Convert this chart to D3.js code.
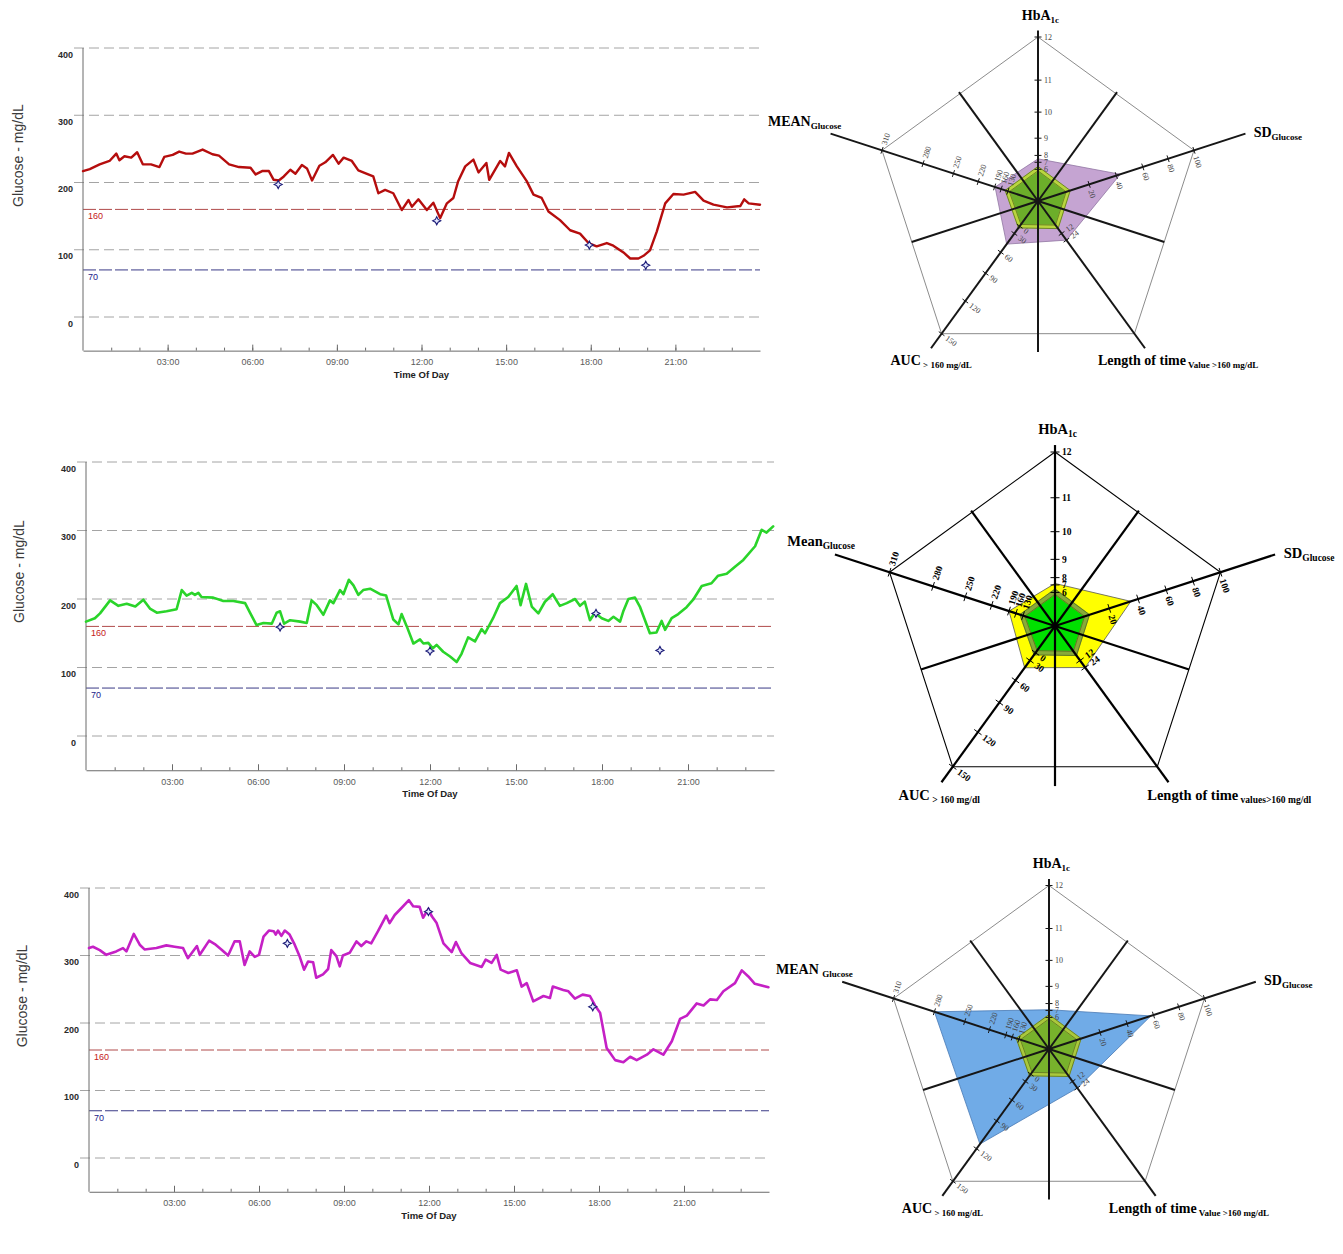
<!DOCTYPE html>
<html>
<head>
<meta charset="utf-8">
<script src="https://cdn.jsdelivr.net/npm/d3@7"></script>
<style>
  body { margin: 0; background: #fff; }
  svg { display: block; }
</style>
</head>
<body>
<svg id="chart" width="1343" height="1254"></svg>
<script>
// ---------- data: glucose traces (hour of day, mg/dL) ----------
const glucoseTicks = [0, 100, 200, 300, 400];
const thresholds = [160, 70];
const majorHours = [3, 6, 9, 12, 15, 18, 21];
const timeLabels = ['03:00', '06:00', '09:00', '12:00', '15:00', '18:00', '21:00'];

const redHours = [0, 0.24, 0.59, 0.94, 1.18, 1.29, 1.47, 1.71, 1.92, 2.12, 2.41, 2.71, 2.88, 3.18, 3.41, 3.65, 3.88, 4.24, 4.59, 4.82,
  5.18, 5.53, 5.94, 6.12, 6.35, 6.59, 6.76, 6.94, 7.12, 7.35, 7.53, 7.76, 7.94, 8.12, 8.38, 8.59, 8.86, 9.06, 9.24, 9.53,
  9.76, 10.0, 10.29, 10.47, 10.71, 11.0, 11.3, 11.54, 11.66, 11.89, 12.19, 12.42, 12.66, 12.9, 13.13, 13.3, 13.55, 13.84, 14.02, 14.3,
  14.4, 14.79, 14.96, 15.1, 15.38, 15.73, 15.97, 16.26, 16.5, 16.91, 17.27, 17.62, 17.92, 18.21, 18.57, 18.8, 19.16, 19.4, 19.69, 19.87,
  20.1, 20.34, 20.64, 20.93, 21.29, 21.7, 22.0, 22.35, 22.83, 23.3, 23.44, 23.6, 24.0];
const redGlucose = [217, 220, 227, 232, 243, 233, 239, 237, 245, 227, 227, 223, 238, 241, 246, 243, 243, 249, 242, 240,
  227, 223, 222, 212, 217, 217, 204, 203, 209, 219, 213, 226, 221, 203, 225, 230, 241, 228, 237, 232,
  218, 214, 209, 184, 189, 184, 159, 174, 164, 175, 159, 170, 147, 169, 177, 202, 224, 234, 215, 229,
  204, 232, 224, 244, 224, 202, 182, 177, 157, 144, 129, 124, 110, 105, 110, 106, 96, 87, 87, 91,
  99, 127, 169, 183, 182, 186, 173, 167, 163, 165, 175, 169, 167];
const redMarkHours = [6.92, 12.54, 17.95, 19.95];
const redMarkGlucose = [197, 143, 107, 77];

const greenHours = [0, 0.31, 0.49, 0.84, 1.13, 1.42, 1.72, 2.0, 2.23, 2.47, 2.81, 3.16, 3.34, 3.51, 3.69, 3.8, 3.92, 4.03, 4.44, 4.79,
  5.14, 5.55, 5.72, 5.95, 6.19, 6.48, 6.65, 6.77, 6.91, 7.12, 7.47, 7.7, 7.87, 8.05, 8.28, 8.51, 8.63, 8.86, 8.98, 9.17,
  9.33, 9.5, 9.67, 9.91, 10.26, 10.47, 10.72, 10.9, 11.01, 11.19, 11.42, 11.65, 11.77, 11.94, 12.1, 12.23, 12.46, 12.7, 12.93, 13.1,
  13.33, 13.57, 13.8, 13.92, 14.2, 14.44, 14.73, 15.02, 15.16, 15.35, 15.55, 15.78, 16.01, 16.28, 16.53, 16.77, 17.06, 17.23, 17.4, 17.58,
  17.75, 17.99, 18.22, 18.4, 18.63, 18.75, 18.92, 19.15, 19.32, 19.67, 19.9, 20.08, 20.2, 20.43, 20.66, 20.95, 21.18, 21.48, 21.82, 22.05,
  22.35, 22.64, 22.93, 23.34, 23.57, 23.74, 23.97];
const greenGlucose = [167, 172, 179, 198, 190, 193, 189, 199, 186, 180, 182, 185, 213, 205, 209, 206, 209, 203, 202, 197,
  197, 194, 180, 162, 165, 164, 180, 182, 164, 169, 167, 165, 198, 191, 177, 198, 194, 213, 207, 228,
  220, 206, 213, 215, 207, 205, 170, 163, 178, 160, 135, 141, 135, 136, 128, 133, 123, 116, 108, 120,
  144, 138, 156, 150, 172, 194, 203, 219, 191, 222, 189, 179, 196, 207, 190, 194, 200, 190, 196, 169,
  180, 172, 168, 174, 167, 183, 200, 202, 189, 150, 151, 168, 155, 172, 178, 188, 199, 219, 223, 234,
  237, 247, 257, 277, 301, 297, 306];
const greenMarkHours = [6.77, 12.0, 17.79, 20.02];
const greenMarkGlucose = [159, 124, 179, 125];

const magentaHours = [0, 0.14, 0.38, 0.61, 0.96, 1.2, 1.32, 1.58, 1.79, 1.96, 2.38, 2.73, 3.02, 3.32, 3.49, 3.81, 3.91, 4.24, 4.44, 4.67,
  4.91, 5.14, 5.32, 5.49, 5.67, 5.85, 6.0, 6.16, 6.35, 6.52, 6.59, 6.67, 6.79, 6.91, 7.08, 7.26, 7.44, 7.59, 7.73, 7.91,
  8.02, 8.26, 8.44, 8.55, 8.73, 8.85, 8.96, 9.2, 9.44, 9.61, 9.79, 9.96, 10.2, 10.49, 10.61, 10.79, 11.02, 11.29, 11.44, 11.67,
  11.79, 11.98, 12.1, 12.27, 12.51, 12.8, 12.95, 13.15, 13.45, 13.86, 14.0, 14.21, 14.39, 14.53, 14.8, 15.1, 15.27, 15.45, 15.68, 16.04,
  16.27, 16.37, 16.74, 16.92, 17.15, 17.42, 17.68, 17.86, 18.04, 18.27, 18.57, 18.86, 19.1, 19.33, 19.69, 19.92, 20.27, 20.57, 20.86, 21.1,
  21.45, 21.69, 21.92, 22.16, 22.39, 22.8, 23.04, 23.27, 23.5, 23.98];
const magentaGlucose = [311, 313, 308, 301, 306, 311, 306, 332, 316, 309, 311, 315, 313, 311, 296, 314, 301, 322, 317, 309,
  300, 321, 321, 286, 306, 298, 301, 328, 337, 336, 331, 337, 329, 337, 331, 316, 298, 279, 291, 290,
  267, 272, 280, 308, 299, 284, 300, 304, 321, 314, 321, 318, 336, 359, 348, 360, 370, 382, 373, 372,
  356, 369, 358, 348, 318, 305, 320, 303, 289, 283, 294, 289, 301, 279, 274, 278, 254, 259, 232, 240,
  237, 254, 249, 247, 236, 242, 240, 226, 215, 163, 145, 142, 150, 145, 153, 161, 153, 173, 206, 211,
  229, 226, 235, 234, 247, 259, 278, 269, 258, 253];
const magentaMarkHours = [7.0, 11.98, 17.78];
const magentaMarkGlucose = [318, 365, 224];

// ---------- data: radar profiles (HbA1c, SD, Length of time, AUC, Mean) ----------
const profilePurple = [7.5, 43, 24, 47, 188];
const profileYellow = [7.2, 35, 24, 41, 190];
const profileBlue = [7.1, 58, 24, 115, 280];
const normalProfile = [6.1, 4, 0, 0, 133];

const hba1cTicks = [6, 7, 8, 9, 10, 11, 12];
const sdTicks = [20, 40, 60, 80, 100];
const lengthTicks = [12, 24];
const aucTicks = [0, 30, 60, 90, 120, 150];
const meanTicks = [130, 160, 190, 220, 250, 280, 310];

const titlesTop = [['HbA', '1c'], ['SD', 'Glucose'], ['Length of time', ' Value >160 mg/dL'], ['AUC', ' > 160 mg/dL'], ['MEAN', 'Glucose']];
const titlesMid = [['HbA', '1c'], ['SD', 'Glucose'], ['Length of time', ' values>160 mg/dl'], ['AUC', ' > 160 mg/dl'], ['Mean', 'Glucose']];
const titlesLow = [['HbA', '1c'], ['SD', 'Glucose'], ['Length of time', ' Value >160 mg/dL'], ['AUC', ' > 160 mg/dL'], ['MEAN ', 'Glucose']];

// ---------- radar axis scales (value -> fraction of the outer radius) ----------
const radarScales = [
  d3.scaleLinear().domain([0, 6, 7, 8, 9, 10, 11, 12]).range([0, .193, .236, .278, .383, .542, .737, 1]),
  d3.scaleLinear().domain([0, 20, 40, 60, 80, 100]).range([.16, .328, .502, .672, .834, 1]),
  d3.scaleLinear().domain([0, 12, 24]).range([.195, .245, .295]),
  d3.scaleLinear().domain([0, 30, 60, 90, 120, 150]).range([.19, .245, .386, .544, .754, 1]),
  d3.scaleLinear().domain([0, 130, 160, 190, 220, 250, 280, 310]).range([0, .193, .236, .278, .383, .542, .737, 1])
];
const radarTicks = [hba1cTicks, sdTicks, lengthTicks, aucTicks, meanTicks];
const axisAngles = [90, 18, -54, -126, 162];
const labelRot = [0, 72, -36, 36, -72];
const axisExt = [1.04, 1.33, 1.11, 1.11, 1.33];
const spokeLen = [0.82, 0.81, 0.92, 0.81, 0.82];

const svg = d3.select('#chart');
const sans = 'Liberation Sans, Arial, sans-serif';
const serif = 'Liberation Serif, Times New Roman, serif';

// 4-point star used for the event markers
const star4 = {
  draw(ctx, size) {
    const r = Math.sqrt(size) * 0.62, q = r * 0.34;
    ctx.moveTo(0, -r); ctx.lineTo(q, -q); ctx.lineTo(r, 0); ctx.lineTo(q, q);
    ctx.lineTo(0, r); ctx.lineTo(-q, q); ctx.lineTo(-r, 0); ctx.lineTo(-q, -q); ctx.closePath();
  }
};

function drawTrace(cfg, hours, glucose, markHours, markGlucose) {
  const x = d3.scaleLinear().domain([0, 24]).range([cfg.left, cfg.right]);
  const y = d3.scaleLinear().domain([0, 400]).range([cfg.y0, cfg.y400]);
  const g = svg.append('g');
  const bottom = y(-50);

  // dashed grid
  g.selectAll('line.grid').data(glucoseTicks).join('line')
    .attr('class', 'grid')
    .attr('x1', cfg.left - 9).attr('x2', cfg.right)
    .attr('y1', d => y(d)).attr('y2', d => y(d))
    .attr('stroke', '#a4a4a4').attr('stroke-width', 1)
    .attr('stroke-dasharray', '10,5');

  // target range lines
  const thrColor = ['#b04a4a', '#3a3a86'];
  const thrText = ['#c42020', '#22228a'];
  g.selectAll('line.thr').data(thresholds).join('line')
    .attr('class', 'thr')
    .attr('x1', cfg.left).attr('x2', cfg.right)
    .attr('y1', d => y(d)).attr('y2', d => y(d))
    .attr('stroke', (d, i) => thrColor[i]).attr('stroke-width', 1)
    .attr('stroke-dasharray', '13,3');
  g.selectAll('text.thr').data(thresholds).join('text')
    .attr('class', 'thr')
    .attr('x', cfg.left + 5).attr('y', d => y(d) + 10)
    .attr('font-family', sans).attr('font-size', 9)
    .attr('fill', (d, i) => thrText[i])
    .text(d => d);

  // y axis
  g.append('line')
    .attr('x1', cfg.left).attr('x2', cfg.left)
    .attr('y1', cfg.y400).attr('y2', bottom)
    .attr('stroke', '#6a6a6a');
  const yAxis = g.append('g')
    .attr('transform', `translate(${cfg.left - 9},0)`)
    .call(d3.axisLeft(y).tickValues(glucoseTicks).tickSize(0).tickPadding(1).tickFormat(d3.format('d')));
  yAxis.select('.domain').remove();
  yAxis.selectAll('text')
    .attr('dy', '1.02em')
    .attr('font-family', sans).attr('font-size', 9).attr('font-weight', 'bold').attr('fill', '#2a2a2a');

  // x axis: hourly minor ticks, 3-hourly labelled ticks
  const xMinor = g.append('g')
    .attr('transform', `translate(0,${bottom})`)
    .call(d3.axisBottom(x).tickValues(d3.range(1, 24)).tickSize(-3).tickSizeOuter(0).tickFormat(''));
  xMinor.select('.domain').attr('stroke', '#6a6a6a');
  xMinor.selectAll('.tick line').attr('stroke', '#6a6a6a');
  const xMajor = g.append('g')
    .attr('transform', `translate(0,${bottom})`)
    .call(d3.axisBottom(x).tickValues(majorHours).tickSize(-6).tickSizeOuter(0).tickPadding(8)
      .tickFormat((d, i) => timeLabels[i]));
  xMajor.select('.domain').remove();
  xMajor.selectAll('.tick line').attr('stroke', '#6a6a6a');
  xMajor.selectAll('text')
    .attr('font-family', sans).attr('font-size', 9).attr('fill', '#5a5a5a');

  g.append('text')
    .attr('x', x(12)).attr('y', bottom + 27)
    .attr('text-anchor', 'middle')
    .attr('font-family', sans).attr('font-size', 9.5).attr('font-weight', 'bold').attr('fill', '#222')
    .text('Time Of Day');

  g.append('text')
    .attr('transform', `translate(${cfg.titleX},${y(240)}) rotate(-90)`)
    .attr('text-anchor', 'middle').attr('dy', '0.35em')
    .attr('font-family', sans).attr('font-size', 14).attr('fill', '#3a3a3a')
    .text('Glucose - mg/dL');

  // trace
  const line = d3.line().x(d => x(d[0])).y(d => y(d[1]));
  g.append('path')
    .datum(d3.zip(hours, glucose))
    .attr('d', line)
    .attr('fill', 'none')
    .attr('stroke', cfg.color).attr('stroke-width', cfg.width)
    .attr('stroke-linejoin', 'round').attr('stroke-linecap', 'round');

  // event markers
  g.selectAll('path.mark').data(d3.zip(markHours, markGlucose)).join('path')
    .attr('class', 'mark')
    .attr('transform', d => `translate(${x(d[0])},${y(d[1])})`)
    .attr('d', d3.symbol().type(star4).size(42))
    .attr('fill', '#e4e8ff').attr('stroke', '#1c1c78').attr('stroke-width', 1.1);
}

function drawRadar(cfg, profile, titles) {
  const g = svg.append('g').attr('transform', `translate(${cfg.cx},${cfg.cy})`);
  const rad = d3.scaleLinear().domain([0, 1]).range([0, cfg.R]);
  const ang = axisAngles.map(a => a * Math.PI / 180);
  const at = (i, f) => [rad(f) * Math.cos(ang[i]), -rad(f) * Math.sin(ang[i])];
  const closed = d3.line().curve(d3.curveLinearClosed);

  // outer pentagon
  g.append('path')
    .attr('d', closed(ang.map((a, i) => at(i, 1))))
    .attr('fill', 'none').attr('stroke', cfg.frame).attr('stroke-width', cfg.frameWidth);

  // patient profile
  g.append('path')
    .attr('d', closed(profile.map((v, i) => at(i, radarScales[i](v)))))
    .attr('fill', cfg.fill).attr('stroke', cfg.edge).attr('stroke-width', 0.8);

  // normal reference band
  const nf = normalProfile.map((v, i) => radarScales[i](v));
  const half = rad.invert(cfg.band / 2);
  g.append('path')
    .attr('d', closed(nf.map((f, i) => at(i, f))))
    .attr('fill', cfg.normal).attr('stroke', cfg.bandColor).attr('stroke-width', cfg.band);
  [half, -half].forEach(o => {
    g.append('path')
      .attr('d', closed(nf.map((f, i) => at(i, f + o))))
      .attr('fill', 'none').attr('stroke', '#4f6418').attr('stroke-width', 0.7);
  });

  // spokes between axes
  g.selectAll('line.spoke').data(axisAngles).join('line')
    .attr('class', 'spoke')
    .attr('x1', 0).attr('y1', 0)
    .attr('x2', (d, i) => rad(spokeLen[i]) * Math.cos((d - 36) * Math.PI / 180))
    .attr('y2', (d, i) => -rad(spokeLen[i]) * Math.sin((d - 36) * Math.PI / 180))
    .attr('stroke', cfg.axis).attr('stroke-width', cfg.axisWidth);

  // main axes
  g.selectAll('line.axis').data(axisAngles).join('line')
    .attr('class', 'axis')
    .attr('x1', 0).attr('y1', 0)
    .attr('x2', (d, i) => at(i, axisExt[i])[0])
    .attr('y2', (d, i) => at(i, axisExt[i])[1])
    .attr('stroke', cfg.axis).attr('stroke-width', cfg.axisWidth);

  // ticks and tick labels
  radarTicks.forEach((ticks, i) => {
    const px = Math.sin(ang[i]), py = Math.cos(ang[i]);
    const rot = labelRot[i] * Math.PI / 180;
    const h = cfg.tick;
    const tg = g.append('g');
    tg.selectAll('line').data(ticks).join('line')
      .attr('x1', v => at(i, radarScales[i](v))[0] - px * h)
      .attr('y1', v => at(i, radarScales[i](v))[1] - py * h)
      .attr('x2', v => at(i, radarScales[i](v))[0] + px * h)
      .attr('y2', v => at(i, radarScales[i](v))[1] + py * h)
      .attr('stroke', cfg.axis).attr('stroke-width', 1);
    tg.selectAll('text').data(ticks).join('text')
      .attr('transform', v => {
        const p = at(i, radarScales[i](v));
        const lx = p[0] + Math.cos(rot) * (h + 2.5), ly = p[1] + Math.sin(rot) * (h + 2.5);
        return `translate(${lx},${ly}) rotate(${labelRot[i]})`;
      })
      .attr('dy', '0.35em')
      .attr('font-family', serif).attr('font-size', cfg.tickFont)
      .attr('font-weight', cfg.tickWeight).attr('fill', cfg.tickColor)
      .text(v => v);
  });

  // axis titles
  const pos = [[0.015, -1.105, 'middle'], [1.315, -0.39, 'start'], [cfg.lenDx, 1.0, 'start'],
    [-0.9, 1.0, 'start'], [cfg.meanDx, -0.46, 'end']];
  titles.forEach((t, i) => {
    const txt = g.append('text')
      .attr('x', rad(pos[i][0])).attr('y', rad(pos[i][1]))
      .attr('text-anchor', pos[i][2])
      .attr('font-family', serif).attr('font-weight', 'bold').attr('fill', '#000');
    txt.append('tspan').attr('font-size', cfg.titleFont).text(t[0]);
    txt.append('tspan').attr('font-size', cfg.subFont).attr('dy', 3).text(t[1]);
  });
}

drawTrace({ left: 83, right: 760, y0: 317, y400: 48, titleX: 18, color: '#b50d0d', width: 2.4 },
  redHours, redGlucose, redMarkHours, redMarkGlucose);
drawTrace({ left: 86, right: 774, y0: 736, y400: 462, titleX: 19, color: '#2ad42a', width: 2.6 },
  greenHours, greenGlucose, greenMarkHours, greenMarkGlucose);
drawTrace({ left: 89, right: 769, y0: 1158, y400: 888, titleX: 22, color: '#c520c5', width: 2.6 },
  magentaHours, magentaGlucose, magentaMarkHours, magentaMarkGlucose);

const softStyle = { frame: '#8c8c8c', frameWidth: 1, axis: '#161616', axisWidth: 2, tick: 3.5,
  tickFont: 8, tickWeight: 'normal', tickColor: '#444', titleFont: 14, subFont: 9, band: 4.3,
  lenDx: 0.366, meanDx: -1.2 };

drawRadar(Object.assign({}, softStyle, { cx: 1038, cy: 201, R: 164,
  fill: '#c5a4d2', edge: '#9176a2', normal: '#6cae2a', bandColor: '#b9d63e' }),
  profilePurple, titlesTop);
drawRadar({ cx: 1055, cy: 626, R: 174, frame: '#000', frameWidth: 1.1, axis: '#000', axisWidth: 2.2,
  tick: 4.5, tickFont: 9.5, tickWeight: 'bold', tickColor: '#000', titleFont: 14.5, subFont: 9.5,
  band: 5.2, lenDx: 0.53, meanDx: -1.15,
  fill: '#ffff00', edge: '#555', normal: '#00e000', bandColor: '#88aa3a' },
  profileYellow, titlesMid);
drawRadar(Object.assign({}, softStyle, { cx: 1049, cy: 1049, R: 163.5,
  fill: '#70abe7', edge: '#4778b4', normal: '#78b22c', bandColor: '#aac93c' }),
  profileBlue, titlesLow);
</script>
</body>
</html>
